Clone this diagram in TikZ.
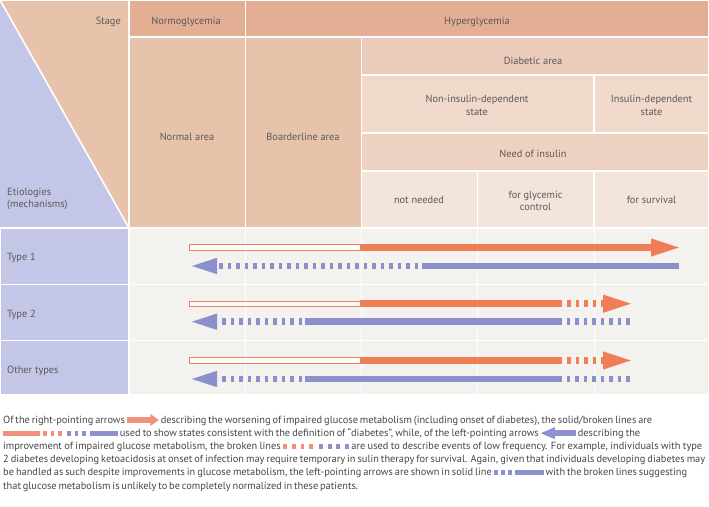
\documentclass[tikz,border=0pt]{standalone}
\usepackage{fontspec}
\setmainfont{PT Sans}
\usetikzlibrary{arrows.meta,positioning}

\definecolor{hdr}{HTML}{E3AE94}
\definecolor{area}{HTML}{E8C3AC}
\definecolor{diab}{HTML}{EBCBB9}
\definecolor{state}{HTML}{F0D8CB}
\definecolor{need}{HTML}{EDD1C1}
\definecolor{use}{HTML}{F4E5DC}
\definecolor{etio}{HTML}{C4C6E7}
\definecolor{rowbg}{HTML}{F3F2EF}
\definecolor{worse}{HTML}{EF7E56}
\definecolor{better}{HTML}{8B8FCC}
\definecolor{capworse}{HTML}{F2907C}
\definecolor{capbetter}{HTML}{8D91D0}
\definecolor{txt}{HTML}{595959}
\definecolor{captxt}{HTML}{454545}

\tikzstyle{cell}=[draw=white,line width=1.6bp]
\tikzstyle{lbl}=[align=center]
\tikzstyle{hollow}=[draw=worse,fill=white,line width=1bp]
\tikzstyle{worsebar}=[worse,line width=6.5bp]
\tikzstyle{worsedash}=[worsebar,dash pattern=on 3.5bp off 5bp]
\tikzstyle{betterbar}=[better,line width=6.5bp]
\tikzstyle{betterdash}=[betterbar,dash pattern=on 3.5bp off 5bp]
\tikzstyle{bighead}=[-{Triangle[length=30bp,width=16bp]}]
\tikzstyle{smallhead}=[-{Triangle[length=28bp,width=14bp]}]
\tikzstyle{capline}=[anchor=base west,text=captxt]

\newcommand{\fillcells}[2][\empty]{
	\foreach \xa/\ya/\xb/\yb in {#2}{
		\filldraw[cell,#1] (\xa,\ya) rectangle (\xb,\yb);
	}
}
% little marks used inside the caption
\newcommand{\capbar}[2]{\tikz[baseline=-3bp]{\fill[#1] (0,-2.6bp) rectangle (#2,2.6bp);}}
\newcommand{\capdash}[3]{\tikz[baseline=-3bp]{\foreach \i in {1,...,#2}{\fill[#1] ({(\i-1)*#3},-2.6bp) rectangle ++(3.8bp,5.2bp);}}}
\newcommand{\rarr}{\tikz[baseline=-3bp]{\fill[capworse] (0,-3bp) rectangle (24bp,3bp);\fill[capworse] (23.5bp,-6bp) -- (32bp,0) -- (23.5bp,6bp) -- cycle;}}
\newcommand{\larr}{\tikz[baseline=-3bp]{\fill[capbetter] (0,0) -- (14bp,6bp) -- (14bp,-6bp) -- cycle;\fill[capbetter] (13.5bp,-3bp) rectangle (35bp,3bp);}}

\begin{document}
\begin{tikzpicture}[x=1bp,y=-1bp]
	\tikzstyle{every node}+=[inner sep=0pt,text=txt,font=\fontsize{10.4}{12.4}\selectfont]
	\useasboundingbox (0,0) rectangle (709,507);

	% stage table
	\fillcells[fill=area]{0/0/129/228, 129/37/245.5/228, 245.5/37/361.5/228}
	\fill[etio] (0,0) -- (129,228) -- (0,228) -- cycle;
	\draw[white,line width=1.6bp] (0,0) -- (129,228);
	\fillcells[fill=hdr]{129/0/245.5/37, 245.5/0/709/37}
	\fillcells[fill=diab]{361.5/37/709/75}
	\fillcells[fill=state]{361.5/75/594/133, 594/75/709/133}
	\fillcells[fill=need]{361.5/133/709/171}
	\fillcells[fill=use]{361.5/171/477.5/228, 477.5/171/594/228, 594/171/709/228}

	% etiology rows
	\fillcells[fill=etio]{0/228/129/284.5, 0/284.5/129/340.5, 0/340.5/129/395}
	\fillcells[fill=rowbg]{129/228/709/284.5, 129/284.5/709/340.5, 129/340.5/709/395}
	\foreach \x in {245.5,361.5,477.5,594}{
		\draw[white,line width=1bp] (\x,229) -- (\x,394);
	}

	\node[lbl,anchor=east] (stage) at (121,21.5) {Stage};
	\node[lbl] (normo) at (186,21.5) {Normoglycemia};
	\node[lbl] (hyper) at (477,21.5) {Hyperglycemia};
	\node[lbl,anchor=west,align=left] (etiol) at (7,199) {Etiologies\\(mechanisms)};
	\node[lbl] (normal) at (187,137) {Normal area};
	\node[lbl] (border) at (303,137) {Boarderline area};
	\node[lbl] (diabetic) at (533,60.5) {Diabetic area};
	\node[lbl] (nonins) at (477,105.5) {Non-insulin-dependent\\state};
	\node[lbl] (insdep) at (651.5,105.5) {Insulin-dependent\\state};
	\node[lbl] (need) at (533,153.5) {Need of insulin};
	\node[lbl] (notneed) at (419,200) {not needed};
	\node[lbl] (glycemic) at (535.5,201) {for glycemic\\control};
	\node[lbl] (survival) at (651.5,200) {for survival};
	\node[lbl,anchor=west] (type1) at (7,258) {Type 1};
	\node[lbl,anchor=west] (type2) at (7,315) {Type 2};
	\node[lbl,anchor=west] (other) at (7,371) {Other types};

	% type 1
	\draw[hollow] (189,244.8) rectangle (360,250.2);
	\draw[worsebar,bighead] (360,247.5) -- (681,247.5);
	\draw[betterbar] (679,266) -- (421.5,266);
	\draw[betterdash,smallhead] (418,266) -- (189,266);
	% type 2 and other types
	\foreach \yo/\yb in {303.7/321.7, 360.5/379}{
		\draw[hollow] (189,\yo-2.7) rectangle (360,\yo+2.7);
		\draw[worsebar] (360,\yo) -- (562,\yo);
		\draw[worsedash,bighead] (567,\yo) -- (633,\yo);
		\draw[betterdash,smallhead] (302,\yb) -- (189,\yb);
		\draw[betterbar] (305,\yb) -- (562,\yb);
		\draw[betterdash] (566.5,\yb) -- (634,\yb);
	}

	% caption
	\node[capline] (cap1) at (3,423) {\makebox[649bp][s]{Of the right-pointing arrows \rarr{} describing the worsening of impaired glucose metabolism (including onset of diabetes), the solid/broken lines are}};
	\node[capline] (cap2) at (3,436.2) {\makebox[637bp][s]{\capbar{capworse}{37bp}\hspace{3bp}\capdash{capworse}{3}{7.5bp}\hspace{5bp}\capdash{capbetter}{3}{7.5bp}\hspace{4bp}\capbar{capbetter}{28bp} used to show states consistent with the definition of “diabetes”, while, of the left-pointing arrows \larr{} describing the}};
	\node[capline] (cap3) at (3,449.4) {\makebox[699bp][s]{improvement of impaired glucose metabolism, the broken lines \capdash{capworse}{4}{8.7bp}\hspace{6bp}\capdash{capbetter}{4}{8.7bp} are used to describe events of low frequency. For example, individuals with type}};
	\node[capline] (cap4) at (3,462.6) {\makebox[702bp][s]{2 diabetes developing ketoacidosis at onset of infection may require temporary in sulin therapy for survival. Again, given that individuals developing diabetes may}};
	\node[capline] (cap5) at (3,475.8) {\makebox[684bp][s]{be handled as such despite improvements in glucose metabolism, the left-pointing arrows are shown in solid line \capdash{capbetter}{3}{7bp}\hspace{3bp}\capbar{capbetter}{29bp} with the broken lines suggesting}};
	\node[capline] (cap6) at (3,489) {\makebox[355bp][s]{that glucose metabolism is unlikely to be completely normalized in these patients.}};
\end{tikzpicture}
\end{document}
